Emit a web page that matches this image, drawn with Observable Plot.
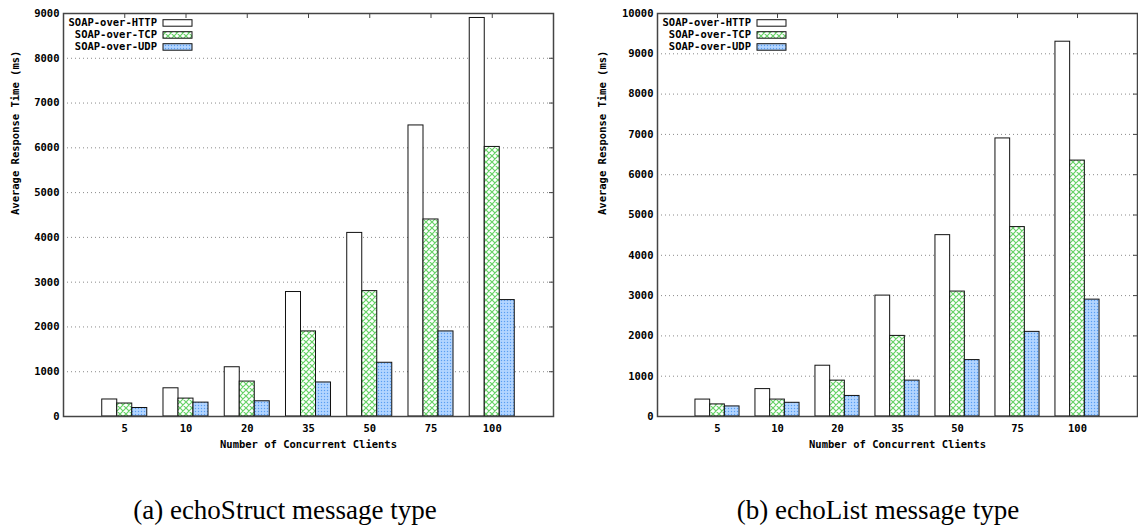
<!DOCTYPE html>
<html>
<head>
<meta charset="utf-8">
<script src="https://cdn.jsdelivr.net/npm/d3@7"></script>
<script src="https://cdn.jsdelivr.net/npm/@observablehq/plot@0.6"></script>
<style>
  body { margin: 0; background: #fff; }
  #page { position: relative; width: 1138px; height: 527px; overflow: hidden; background: #fff; }
  .panel { position: absolute; top: 0; }
  .caption {
    position: absolute; top: 494px; transform: translateX(-50%); line-height: 32px;
    font-family: "Liberation Serif", serif; font-size: 27px; white-space: nowrap; color: #000;
  }
</style>
</head>
<body>
<div id="page">
  <svg width="0" height="0" style="position:absolute">
    <defs>
      <!-- green cross-hatch for TCP bars -->
      <pattern id="hatch-tcp" width="6" height="6" patternUnits="userSpaceOnUse">
        <rect width="6" height="6" fill="#fff"></rect>
        <path d="M0,0L6,6M6,0L0,6M-1,5L1,7M5,-1L7,1M-1,1L1,-1M5,7L7,5" stroke="#66d266" stroke-width="1.2" fill="none"></path>
      </pattern>
      <!-- fine blue dot texture for UDP bars -->
      <pattern id="dots-udp" width="3" height="3" patternUnits="userSpaceOnUse">
        <rect width="3" height="3" fill="#a8cfff"></rect>
        <rect x="0" y="0" width="1" height="1" fill="#5b9ef0"></rect>
        <rect x="1.5" y="1.5" width="1" height="1" fill="#d6e9ff"></rect>
      </pattern>
    </defs>
  </svg>
  <div id="panel-a" class="panel" style="left:0px"></div>
  <div id="panel-b" class="panel" style="left:569px"></div>
  <div class="caption" style="left:285px">(a) echoStruct message type</div>
  <div class="caption" style="left:878px">(b) echoList message type</div>
</div>
<script>
// Concurrent client counts (x categories) and series names
const clients = ["5", "10", "20", "35", "50", "75", "100"];
const seriesNames = ["SOAP-over-HTTP", "SOAP-over-TCP", "SOAP-over-UDP"];

// Average response time (ms), echoStruct message type
const structHttp = [380, 630, 1100, 2780, 4100, 6500, 8900];
const structTcp  = [290, 400, 780, 1900, 2800, 4400, 6020];
const structUdp  = [190, 310, 340, 760, 1200, 1900, 2600];

// Average response time (ms), echoList message type
const listHttp = [420, 680, 1260, 3000, 4500, 6900, 9300];
const listTcp  = [300, 420, 890, 2000, 3100, 4700, 6350];
const listUdp  = [250, 340, 510, 890, 1400, 2100, 2900];

// y tick values
const structTicks = [0, 1000, 2000, 3000, 4000, 5000, 6000, 7000, 8000, 9000];
const listTicks = [0, 1000, 2000, 3000, 4000, 5000, 6000, 7000, 8000, 9000, 10000];

const xLabel = "Number of Concurrent Clients";
const yLabel = "Average Response Time (ms)";

const seriesFills = ["#ffffff", "url(#hatch-tcp)", "url(#dots-udp)"];
const font = "'DejaVu Sans Mono', monospace";
const frameColor = "#444";

function drawPanel(container, values, yTicks, opts) {
  const W = 569, H = 460;
  const m = {top: 13, right: opts.marginRight, bottom: 44, left: opts.marginLeft};
  const frameW = W - m.left - m.right;
  const frameH = H - m.top - m.bottom;
  const barW = 0.245;
  const idx = clients.map((_, i) => i);

  const barMarks = values.map((vals, s) =>
    Plot.rectY(vals.map((v, i) => ({i, v})), {
      x1: d => d.i + (s - 1) * barW - barW / 2,
      x2: d => d.i + (s - 1) * barW + barW / 2,
      y1: 0,
      y2: "v",
      fill: seriesFills[s],
      stroke: "#111",
      strokeWidth: 1
    })
  );

  const plot = Plot.plot({
    width: W,
    height: H,
    marginTop: m.top,
    marginRight: m.right,
    marginBottom: m.bottom,
    marginLeft: m.left,
    style: {fontFamily: font, fontWeight: "bold", fontSize: "10.5px", background: "transparent", color: "#000"},
    x: {type: "linear", domain: [-1, clients.length]},
    y: {domain: [0, yTicks[yTicks.length - 1]]},
    marks: [
      Plot.gridY(yTicks.slice(1, -1), {stroke: "#8a8a8a", strokeOpacity: 1, strokeDasharray: "1,3", strokeWidth: 1}),
      // inward tick marks: top and bottom (x), right (y)
      Plot.ruleX(idx, {x: d => d, insetBottom: frameH - 5, stroke: frameColor}),
      Plot.ruleX(idx, {x: d => d, insetTop: frameH - 5, stroke: frameColor}),
      Plot.ruleY(yTicks, {y: d => d, insetLeft: frameW - 4, stroke: frameColor}),
      ...barMarks,
      Plot.frame({stroke: frameColor, strokeWidth: 1.5}),
      Plot.axisY(yTicks, {tickSize: 0, tickPadding: 4, label: null, tickFormat: d => String(d)}),
      Plot.axisX(idx, {tickSize: 0, tickPadding: 8, label: null, tickFormat: i => clients[i]}),
      Plot.text([xLabel], {frameAnchor: "bottom", dy: 31, text: d => d}),
      Plot.text([yLabel], {frameAnchor: "left", rotate: -90, dx: opts.yLabelDx, text: d => d})
    ]
  });

  // legend in the top-left corner of the frame
  const svg = d3.select(plot);
  const lg = svg.append("g").attr("font-family", font).attr("font-weight", "bold").attr("font-size", "10.5px");
  seriesNames.forEach((name, k) => {
    const cy = m.top + 9.7 + 12 * k;
    lg.append("text")
      .attr("x", m.left + 94).attr("y", cy)
      .attr("dy", "0.34em").attr("text-anchor", "end")
      .text(name);
    lg.append("rect")
      .attr("x", m.left + 100).attr("y", cy - 3)
      .attr("width", 29).attr("height", 6.5)
      .attr("fill", seriesFills[k]).attr("stroke", "#111").attr("stroke-width", 1);
  });

  document.getElementById(container).append(plot);
}

drawPanel("panel-a", [structHttp, structTcp, structUdp], structTicks, {marginLeft: 63, marginRight: 16, yLabelDx: -48});
drawPanel("panel-b", [listHttp, listTcp, listUdp], listTicks, {marginLeft: 88, marginRight: 1, yLabelDx: -55});
</script>
</body>
</html>
